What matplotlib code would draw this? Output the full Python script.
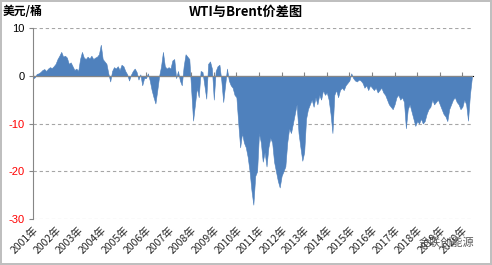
import numpy as np
import pandas as pd
import matplotlib
matplotlib.use("Agg")
import matplotlib.pyplot as plt

plt.rcParams['font.family'] = ['Noto Sans CJK SC', 'DejaVu Sans']

# WTI - Brent 月度价差 (美元/桶), 2001-01 起
spread_2001 = [-0.6, -0.3, 0.4, 0.5, 0.8, 1.2, 1.4, 1.0, 1.5, 1.8, 1.6, 2.0]
spread_2002 = [2.5, 3.5, 4.2, 5.0, 4.0, 4.2, 3.8, 2.5, 2.8, 2.0, 1.2, 1.5]
spread_2003 = [1.0, 3.5, 5.0, 3.8, 3.5, 4.0, 3.6, 4.2, 3.5, 3.8, 4.0, 4.5]
spread_2004 = [6.5, 3.5, 3.0, 2.5, 0.5, -1.2, 1.0, 1.8, 1.5, 2.0, 1.2, 2.3]
spread_2005 = [2.0, 1.0, 0.3, -1.0, 0.2, 1.0, 1.5, 0.8, -0.8, 0.3, -2.0, -0.5]
spread_2006 = [-0.5, 0.5, -1.0, -3.0, -4.5, -5.8, -3.0, 0.0, 2.0, 5.0, 2.0, 1.5]
spread_2007 = [1.8, 1.5, 3.2, 3.5, -0.5, 1.0, -1.0, -2.0, 2.0, 4.5, 4.0, 3.5]
spread_2008 = [-3.0, -9.4, -6.0, -2.5, -4.5, 1.0, 0.8, -2.0, -4.8, 2.5, 3.0, 1.5]
spread_2009 = [-5.0, 1.0, 2.0, 2.3, -1.0, -5.5, -2.0, 1.5, -1.0, -2.0, -2.5, -4.0]
spread_2010 = [-4.5, -10, -15, -12, -14, -15, -17, -20, -24, -27, -21, -20]
spread_2011 = [-12, -14, -18, -16, -19, -15, -13, -14, -18, -20, -22, -23.4]
spread_2012 = [-21, -20, -19, -14, -11, -12, -10, -8, -6, -12, -15, -17.8]
spread_2013 = [-16, -9, -7, -6, -5, -6.5, -4.5, -6, -4, -5, -3, -4]
spread_2014 = [-3.5, -5, -8, -12, -4, -3, -4.5, -3, -2.5, -3, -2, -1.5]
spread_2015 = [-1.0, 0.5, -0.5, -1.0, -1.2, -0.8, -1.0, -1.5, -2.5, -2.0, -3.0, -2.0]
spread_2016 = [-2.5, -3.0, -2.5, -3.5, -3.0, -2.5, -3.5, -4.0, -5.0, -6.0, -6.5, -7.0]
spread_2017 = [-6.0, -4.5, -4.0, -5.0, -4.5, -5.5, -11, -7, -6, -7.5, -9, -10.5]
spread_2018 = [-9.5, -10, -9, -10, -9.5, -8, -7, -6.5, -5, -6, -5.5, -5]
spread_2019 = [-6, -7, -8, -8.5, -9.5, -7, -6, -5, -4.5, -5.5, -6, -7]
spread_2020 = [-6.5, -5, -6, -9.4, -4, -0.5]

years = list(range(2001, 2021))
year_labels = [f"{y}年" for y in years]
y_ticks = [10, 0, -10, -20, -30]

spread = np.array(spread_2001 + spread_2002 + spread_2003 + spread_2004 + spread_2005
                  + spread_2006 + spread_2007 + spread_2008 + spread_2009 + spread_2010
                  + spread_2011 + spread_2012 + spread_2013 + spread_2014 + spread_2015
                  + spread_2016 + spread_2017 + spread_2018 + spread_2019 + spread_2020)
dates = pd.date_range("2001-01-01", periods=len(spread), freq="MS")
t = dates.year + (dates.month - 1) / 12.0

fig = plt.figure(figsize=(4.92, 2.65), dpi=100)
fig.patch.set_edgecolor('#bfbfbf')
fig.patch.set_linewidth(1.5)
ax = fig.add_axes([33 / 492, 1 - 219 / 265, 440 / 492, 191 / 265])

ax.fill_between(t, spread, 0, color='#4f81bd', linewidth=0.4, edgecolor='#4f81bd')

ax.set_xlim(2001, 2020.47)
ax.set_ylim(-30, 10)

# 网格线
for v in [10, -10, -20, -30]:
    ax.axhline(v, color='#a6a6a6', linestyle=(0, (3, 2.5)), linewidth=0.8, zorder=0)

for s in ['top', 'right', 'bottom']:
    ax.spines[s].set_visible(False)
ax.spines['left'].set_color('#868686')
ax.spines['left'].set_linewidth(0.8)

ax.set_yticks(y_ticks)
ax.set_yticklabels([str(v) for v in y_ticks], fontsize=8, family=['Liberation Sans', 'DejaVu Sans'])
for lab, v in zip(ax.get_yticklabels(), y_ticks):
    lab.set_color('red' if v < 0 else 'black')
ax.tick_params(axis='y', length=3, color='#868686', pad=3)

# 横轴在 0 处
ax.axhline(0, color='#868686', linewidth=0.8, zorder=3)
sec = ax.secondary_xaxis(0.75)
sec.set_xticks(years)
sec.set_xticklabels([])
sec.spines['bottom'].set_visible(False)
sec.tick_params(axis='x', length=3, color='#868686', direction='out')

ax.set_xticks(years)
ax.set_xticklabels(year_labels, rotation=45, ha='right', va='top',
                   rotation_mode='anchor', fontsize=7.5, color='#262626')
ax.tick_params(axis='x', length=0, pad=4)

fig.text(0.5, 0.955, "WTI与Brent价差图", ha='center', va='center',
         fontsize=9.5, fontweight='bold')
fig.text(0.006, 0.955, "美元/桶", ha='left', va='center', fontsize=8.5, fontweight='bold')
fig.text(0.965, 0.085, "金联创能源", ha='right', va='center', fontsize=8,
         color='#3a3a3a', alpha=0.85)

fig.savefig("out.png", dpi=100)
